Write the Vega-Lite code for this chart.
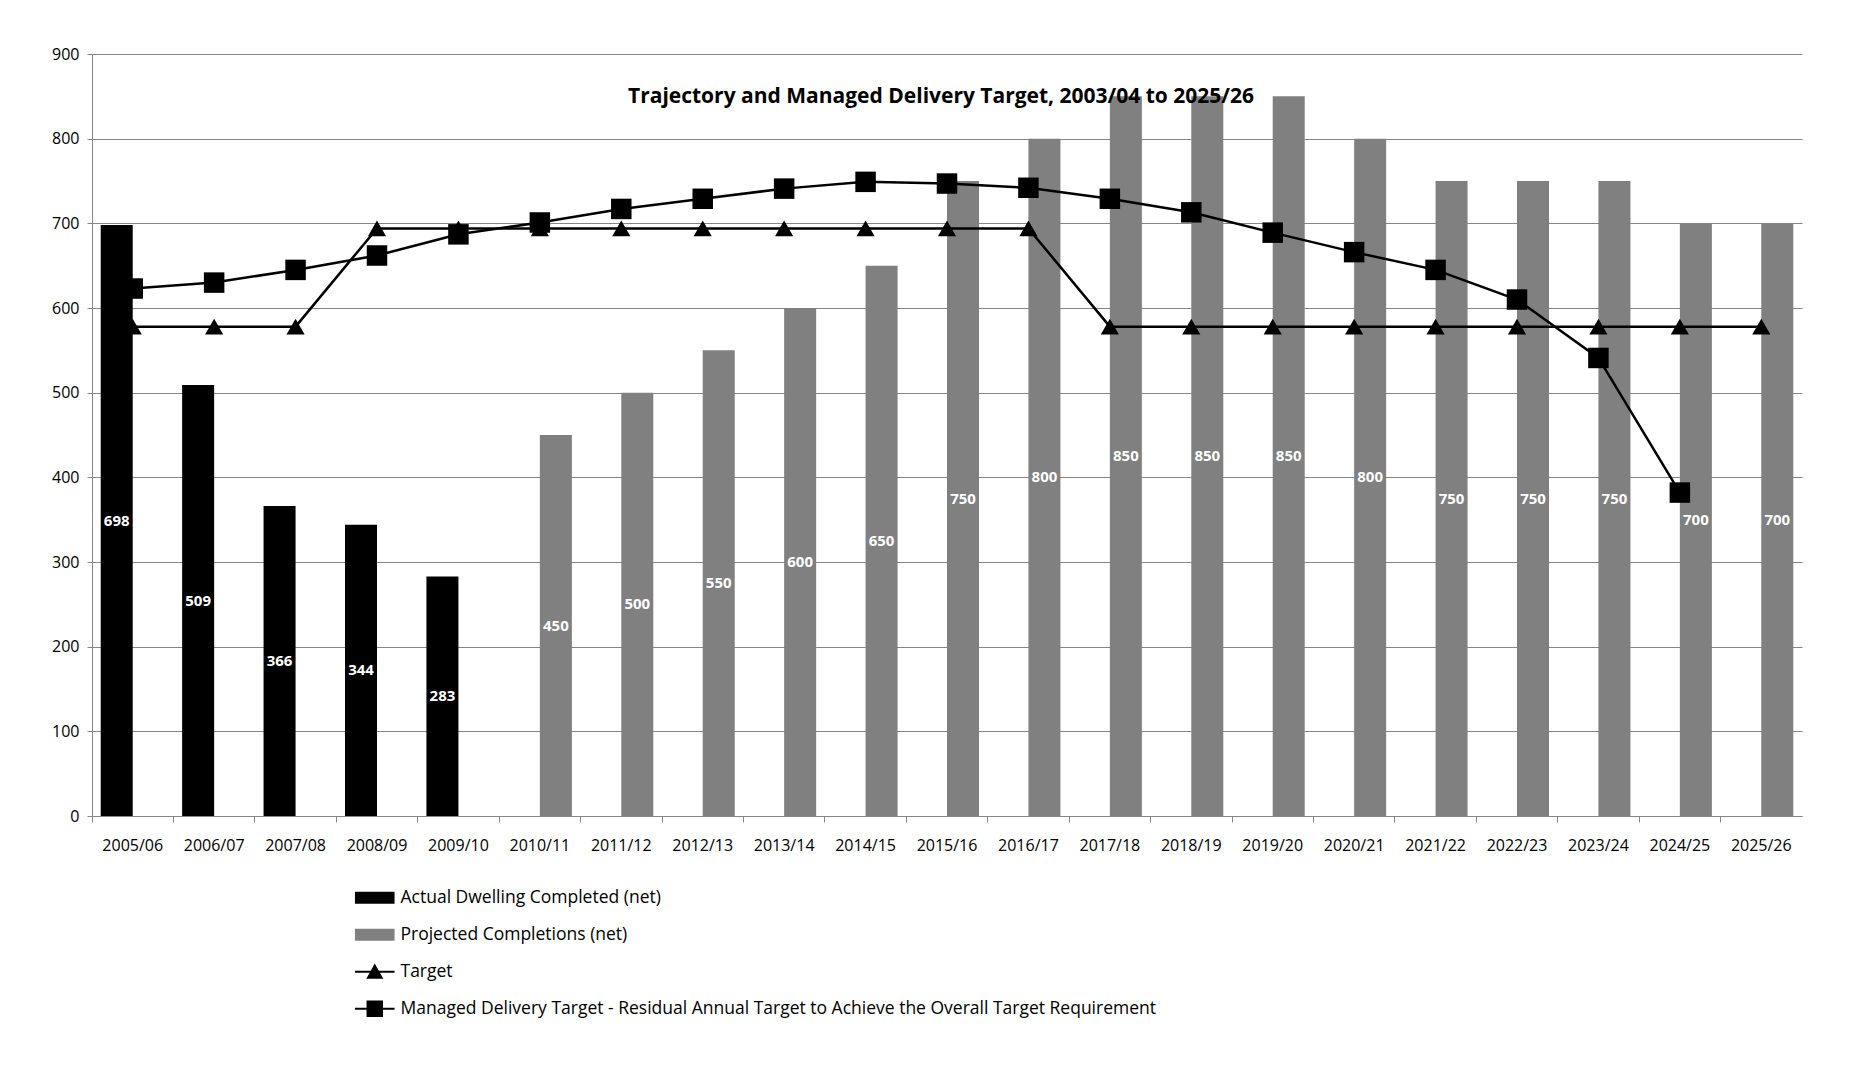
{
  "$schema": "https://vega.github.io/schema/vega-lite/v6.json",
  "width": 1710,
  "height": 762,
  "autosize": {"type": "none"},
  "padding": {"left": 92, "top": 54, "right": 47, "bottom": 267},
  "background": "white",
  "config": {
    "font": "Open Sans",
    "view": {"stroke": null},
    "axis": {"labelColor": "#000000", "labelFont": "Open Sans", "labelFontSize": 16, "domainColor": "#868686", "tickColor": "#868686", "gridColor": "#868686", "title": null}
  },
  "title": {
    "text": "Trajectory and Managed Delivery Target, 2003/04 to 2025/26",
    "anchor": "middle",
    "frame": "group",
    "offset": -61,
    "dx": -6,
    "fontSize": 21,
    "fontWeight": "bold",
    "font": "Open Sans",
    "color": "#000000"
  },
  "data": {
    "values": [
      {"year": "2005/06", "series": "Actual Dwelling Completed (net)", "value": 698},
      {"year": "2006/07", "series": "Actual Dwelling Completed (net)", "value": 509},
      {"year": "2007/08", "series": "Actual Dwelling Completed (net)", "value": 366},
      {"year": "2008/09", "series": "Actual Dwelling Completed (net)", "value": 344},
      {"year": "2009/10", "series": "Actual Dwelling Completed (net)", "value": 283},
      {"year": "2010/11", "series": "Projected Completions (net)", "value": 450},
      {"year": "2011/12", "series": "Projected Completions (net)", "value": 500},
      {"year": "2012/13", "series": "Projected Completions (net)", "value": 550},
      {"year": "2013/14", "series": "Projected Completions (net)", "value": 600},
      {"year": "2014/15", "series": "Projected Completions (net)", "value": 650},
      {"year": "2015/16", "series": "Projected Completions (net)", "value": 750},
      {"year": "2016/17", "series": "Projected Completions (net)", "value": 800},
      {"year": "2017/18", "series": "Projected Completions (net)", "value": 850},
      {"year": "2018/19", "series": "Projected Completions (net)", "value": 850},
      {"year": "2019/20", "series": "Projected Completions (net)", "value": 850},
      {"year": "2020/21", "series": "Projected Completions (net)", "value": 800},
      {"year": "2021/22", "series": "Projected Completions (net)", "value": 750},
      {"year": "2022/23", "series": "Projected Completions (net)", "value": 750},
      {"year": "2023/24", "series": "Projected Completions (net)", "value": 750},
      {"year": "2024/25", "series": "Projected Completions (net)", "value": 700},
      {"year": "2025/26", "series": "Projected Completions (net)", "value": 700},
      {"year": "2005/06", "series": "Target", "value": 578},
      {"year": "2006/07", "series": "Target", "value": 578},
      {"year": "2007/08", "series": "Target", "value": 578},
      {"year": "2008/09", "series": "Target", "value": 694},
      {"year": "2009/10", "series": "Target", "value": 694},
      {"year": "2010/11", "series": "Target", "value": 694},
      {"year": "2011/12", "series": "Target", "value": 694},
      {"year": "2012/13", "series": "Target", "value": 694},
      {"year": "2013/14", "series": "Target", "value": 694},
      {"year": "2014/15", "series": "Target", "value": 694},
      {"year": "2015/16", "series": "Target", "value": 694},
      {"year": "2016/17", "series": "Target", "value": 694},
      {"year": "2017/18", "series": "Target", "value": 578},
      {"year": "2018/19", "series": "Target", "value": 578},
      {"year": "2019/20", "series": "Target", "value": 578},
      {"year": "2020/21", "series": "Target", "value": 578},
      {"year": "2021/22", "series": "Target", "value": 578},
      {"year": "2022/23", "series": "Target", "value": 578},
      {"year": "2023/24", "series": "Target", "value": 578},
      {"year": "2024/25", "series": "Target", "value": 578},
      {"year": "2025/26", "series": "Target", "value": 578},
      {"year": "2005/06", "series": "Managed", "value": 623},
      {"year": "2006/07", "series": "Managed", "value": 630},
      {"year": "2007/08", "series": "Managed", "value": 645},
      {"year": "2008/09", "series": "Managed", "value": 662},
      {"year": "2009/10", "series": "Managed", "value": 687},
      {"year": "2010/11", "series": "Managed", "value": 701},
      {"year": "2011/12", "series": "Managed", "value": 717},
      {"year": "2012/13", "series": "Managed", "value": 729},
      {"year": "2013/14", "series": "Managed", "value": 741},
      {"year": "2014/15", "series": "Managed", "value": 749},
      {"year": "2015/16", "series": "Managed", "value": 747},
      {"year": "2016/17", "series": "Managed", "value": 742},
      {"year": "2017/18", "series": "Managed", "value": 729},
      {"year": "2018/19", "series": "Managed", "value": 713},
      {"year": "2019/20", "series": "Managed", "value": 689},
      {"year": "2020/21", "series": "Managed", "value": 666},
      {"year": "2021/22", "series": "Managed", "value": 645},
      {"year": "2022/23", "series": "Managed", "value": 610},
      {"year": "2023/24", "series": "Managed", "value": 541},
      {"year": "2024/25", "series": "Managed", "value": 382}
    ]
  },
  "layer": [
    {
      "transform": [{"filter": "datum.series === 'Actual Dwelling Completed (net)' || datum.series === 'Projected Completions (net)'"}],
      "mark": {"type": "bar"},
      "encoding": {
        "x": {"field": "year", "type": "nominal", "sort": null, "scale": {"paddingInner": 0, "paddingOuter": 0},
          "axis": {"labelAngle": 0, "bandPosition": 0, "tickSize": 6, "labelPadding": 15, "grid": false}},
        "xOffset": {"field": "series", "type": "nominal", "scale": {"domain": ["Actual Dwelling Completed (net)", "Projected Completions (net)"], "paddingInner": 0, "paddingOuter": 0.272}},
        "y": {"field": "value", "type": "quantitative", "scale": {"domain": [0, 900], "nice": false},
          "axis": {"values": [0, 100, 200, 300, 400, 500, 600, 700, 800, 900], "tickSize": 5, "labelPadding": 8, "grid": true}},
        "color": {"field": "series", "type": "nominal",
          "scale": {"domain": ["Actual Dwelling Completed (net)", "Projected Completions (net)", "Target", "Managed Delivery Target - Residual Annual Target to Achieve the Overall Target Requirement"], "range": ["#000000", "#808080", "#000000", "#000000"]},
          "legend": {
            "orient": "none", "legendX": 274, "legendY": 835, "direction": "vertical", "title": null,
            "symbolSize": 1296, "labelFont": "Open Sans", "labelFontSize": 17.5, "labelColor": "#000000", "labelOffset": 17,
            "rowPadding": 14, "gridAlign": "all", "labelLimit": 1200,
            "encode": {"symbols": {"update": {
              "shape": {"signal": "datum.value === 'Target' ? 'M-1.1,0H1.1M-0.38,0.34L0,-0.34L0.38,0.34Z' : (datum.value === 'Actual Dwelling Completed (net)' || datum.value === 'Projected Completions (net)') ? 'M-1.1,-0.33H1.1V0.33H-1.1Z' : 'M-1.1,0H1.1M-0.4,-0.4H0.4V0.4H-0.4Z'"},
              "stroke": {"value": "#000000"},
              "strokeWidth": {"signal": "(datum.value === 'Actual Dwelling Completed (net)' || datum.value === 'Projected Completions (net)') ? 0 : 2"}
            }}}
          }}
      }
    },
    {
      "transform": [{"filter": "datum.series === 'Actual Dwelling Completed (net)' || datum.series === 'Projected Completions (net)'"}],
      "mark": {"type": "text", "color": "#ffffff", "fontWeight": "bold", "fontSize": 15, "font": "Open Sans", "baseline": "middle", "align": "center"},
      "encoding": {
        "x": {"field": "year", "type": "nominal", "sort": null},
        "xOffset": {"field": "series", "type": "nominal"},
        "y": {"field": "value", "type": "quantitative", "scale": {"domain": [0, 1800], "nice": false}, "axis": null},
        "text": {"field": "value", "type": "quantitative"}
      }
    },
    {
      "transform": [{"filter": "datum.series === 'Target' || datum.series === 'Managed'"}],
      "mark": {"type": "line", "color": "#000000", "strokeWidth": 2.5},
      "encoding": {
        "x": {"field": "year", "type": "nominal", "sort": null},
        "y": {"field": "value", "type": "quantitative", "scale": {"domain": [0, 900], "nice": false}, "axis": null},
        "detail": {"field": "series", "type": "nominal"}
      }
    },
    {
      "transform": [{"filter": "datum.series === 'Target'"}],
      "mark": {"type": "point", "shape": "triangle-up", "filled": true, "color": "#000000", "opacity": 1, "size": 330},
      "encoding": {
        "x": {"field": "year", "type": "nominal", "sort": null},
        "y": {"field": "value", "type": "quantitative", "scale": {"domain": [0, 900], "nice": false}, "axis": null}
      }
    },
    {
      "transform": [{"filter": "datum.series === 'Managed'"}],
      "mark": {"type": "point", "shape": "square", "filled": true, "color": "#000000", "opacity": 1, "size": 420},
      "encoding": {
        "x": {"field": "year", "type": "nominal", "sort": null},
        "y": {"field": "value", "type": "quantitative", "scale": {"domain": [0, 900], "nice": false}, "axis": null}
      }
    }
  ],
  "resolve": {"scale": {"y": "independent"}}
}
